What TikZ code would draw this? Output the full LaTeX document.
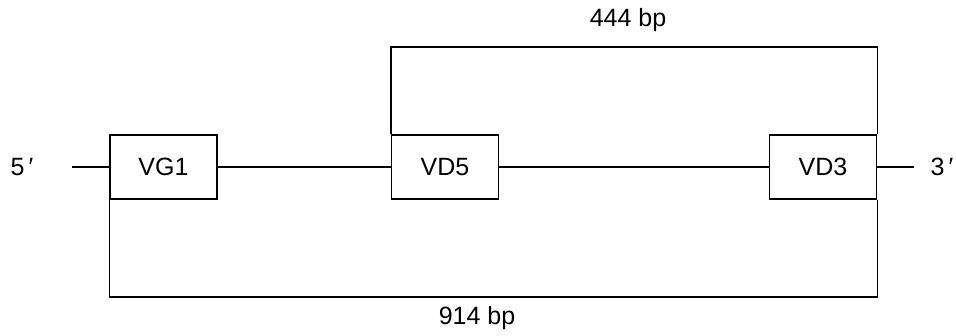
\documentclass[tikz,border=0pt]{standalone}
\usepackage{fontspec}
\setmainfont{Liberation Sans}
\begin{document}
\begin{tikzpicture}[x=1pt,y=-1pt,line width=1.4pt,
  font=\fontsize{25}{30}\selectfont,
  genebox/.style={draw,minimum width=107pt,minimum height=64pt,inner sep=0pt}]
\useasboundingbox (0,0) rectangle (956,336);
\node (p5) at (22,167) {5\,′};
\node (p3) at (942,167) {3\,′};
\coordinate (l5) at (72,167);
\coordinate (r3) at (914,167);
\node[genebox] (vg1) at (163.5,167) {VG1};
\node[genebox] (vd5) at (445,167) {VD5};
\node[genebox] (vd3) at (823,167) {VD3};
\draw (l5) -- (vg1) -- (vd5) -- (vd3) -- (r3);
% brackets
\coordinate (top) at (636,47);
\coordinate (bot) at (494,297);
\draw (vd5.north west) |- (top) -| (vd3.north east);
\draw (vg1.south west) |- (bot) -| (vd3.south east);
\node (d444) at (628,20) {444 bp};
\node (d914) at (477,318) {914 bp};
\end{tikzpicture}
\end{document}
